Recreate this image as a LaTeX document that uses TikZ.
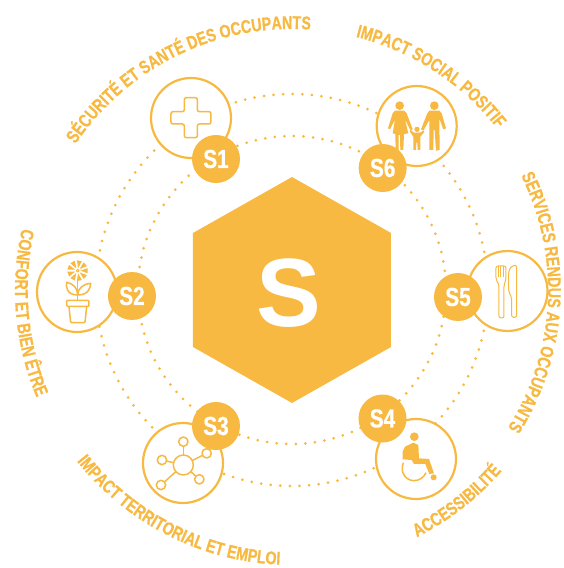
\documentclass[tikz,border=0pt]{standalone}
\usepackage{fontspec}
\setmainfont{Liberation Sans}
\newfontfamily\labelfont[FakeStretch=0.77,FakeBold=0.6]{Liberation Sans Bold}
\newfontfamily\badgefont[FakeStretch=0.8,FakeBold=0.6]{Liberation Sans Bold}
\usetikzlibrary{calc,decorations.text,shapes.geometric}
\definecolor{sunny}{HTML}{F7B941}
\tikzset{
  ring/.style={sunny,line width=3pt,line cap=round,dash pattern=on 0pt off 9.6pt},
  icon/.style={circle,draw=sunny,fill=white,line width=2.2pt,minimum size=80pt,inner sep=0pt},
  badge/.style={circle,fill=sunny,text=white,minimum size=48pt,inner sep=0pt,font=\badgefont\fontsize{26}{26}\selectfont},
  arclabel/.style={decorate,decoration={text along path,text align=center,text color=sunny,text={|\labelfont\fontsize{18.5}{18.5}\selectfont|#1}}},
  thin line/.style={draw=sunny,line width=1.5pt,line join=round},
  zoomed/.style={shift={#1},x=0.3333pt,y=-0.3333pt}
}
\begin{document}
\begin{tikzpicture}[x=1pt,y=1pt]
  \useasboundingbox (-292,-278) rectangle (271,290);
  \coordinate (c) at (0,0);
  % rings
  \draw[ring] (c) circle[radius=196];
  \draw[ring] (c) circle[radius=154];
  % hexagon
  \fill[sunny] (0,113) -- (99,57) -- (99,-57) -- (0,-113) -- (-99,-57) -- (-99,57) -- cycle;
  \node[text=white,font=\bfseries\fontsize{97}{97}\selectfont] (hex) at (-3,-3) {S};
  % icons
  \node[icon] (i1) at (-101,172) {};
  \node[icon] (i2) at (-215,-2) {};
  \node[icon] (i3) at (-109,-173) {};
  \node[icon] (i4) at (124,-169) {};
  \node[icon] (i5) at (215.5,-1) {};
  \node[icon] (i6) at (124.7,164) {};
  % cross
  \begin{scope}[zoomed={(-152,220)}]
    \draw[thin line,rounded corners=2pt] (133,83) -- (172,83) -- (172,125) -- (213,125) -- (213,162) -- (172,162) -- (172,203) -- (133,203) -- (133,162) -- (93,162) -- (93,125) -- (133,125) -- cycle;
  \end{scope}
  % flower
  \begin{scope}[zoomed={(-267,50)}]
    \foreach \a in {0,40,...,320}
      \fill[sunny] ($(158,92)+(\a:8)$) -- ($(158,92)+(\a-14:31)$) -- ($(158,92)+(\a+14:31)$) -- cycle;
    \fill[white] (158,92) circle[radius=7];
    \draw[thin line,line width=1pt] (158,92) circle[radius=4];
    \draw[thin line] (158,118) -- (158,180);
    \draw[thin line] (158,165) .. controls (125,165) and (122,140) .. (125,127) .. controls (145,130) and (158,145) .. (158,165);
    \draw[thin line] (158,165) .. controls (190,165) and (196,145) .. (197,130) .. controls (175,132) and (158,145) .. (158,165);
    \draw[thin line,rounded corners=1pt] (125,181) rectangle (192,199);
    \draw[thin line,rounded corners=1pt] (132,199) -- (137,248) -- (180,248) -- (185,199);
  \end{scope}
  % network
  \begin{scope}[zoomed={(-162,-100)}]
    \draw[thin line] (160,225) circle[radius=30];
    \foreach \px/\py in {160/155,230/190,96/210,93/285,208/268} {
      \draw[thin line] (\px,\py) circle[radius=14];
      \draw[thin line,shorten <=14*0.3333pt,shorten >=30*0.3333pt] (\px,\py) -- (160,225);
    }
  \end{scope}
  % wheelchair
  \begin{scope}[zoomed={(58,-100)}]
    \fill[sunny] (193,140) circle[radius=13];
    \fill[sunny] (165,170) -- (190,158) -- (205,165) -- (207,205) -- (237,207) -- (252,250) -- (238,252) -- (226,222) -- (192,222) -- (185,210) -- (158,208) -- (158,185) -- cycle;
    \draw[thin line] (160,218) .. controls (148,250) and (170,272) .. (192,272) .. controls (208,272) and (222,262) .. (228,248);
    \fill[sunny] (251,262) circle[radius=9];
  \end{scope}
  % cutlery
  \begin{scope}[zoomed={(138,50)}]
    \draw[thin line,line width=1pt,rounded corners=2pt] (198,78) -- (228,78) -- (228,118) -- (222,135) -- (222,234) -- (207,234) -- (207,135) -- (198,118) -- cycle;
    \foreach \tx in {205,213,221}
      \draw[thin line,line width=1pt] (\tx,78) -- (\tx,112);
    \draw[thin line,line width=1pt,rounded corners=2pt] (247,76) -- (260,76) -- (260,232) -- (245,232) -- (245,172) -- (236,155) -- (236,92) -- cycle;
  \end{scope}
  % family
  \begin{scope}[zoomed={(48,220)}]
    \fill[sunny] (179,107) circle[radius=13];
    \fill[sunny] (165,122) -- (192,122) -- (200,130) -- (218,178) -- (212,182) -- (195,148) -- (205,190) -- (192,192) -- (190,240) -- (181,240) -- (180,195) -- (176,195) -- (176,240) -- (167,240) -- (166,192) -- (158,190) -- (165,148) -- (150,178) -- (144,175) -- (158,130) -- cycle;
    \fill[sunny] (283,107) circle[radius=13];
    \fill[sunny] (268,122) -- (298,122) -- (305,130) -- (318,175) -- (310,178) -- (298,145) -- (299,240) -- (288,242) -- (284,180) -- (281,180) -- (280,240) -- (268,240) -- (268,150) -- (250,182) -- (243,178) -- (262,130) -- cycle;
    \fill[sunny] (231,178) circle[radius=8];
    \fill[sunny] (222,188) -- (240,188) -- (250,182) -- (253,186) -- (241,200) -- (241,240) -- (233,240) -- (232,218) -- (229,218) -- (228,240) -- (220,240) -- (220,200) -- (209,184) -- (212,180) -- cycle;
  \end{scope}
  % badges
  \node[badge] (s1) at (-76,131) {S1};
  \node[badge] (s2) at (-160,-6) {S2};
  \node[badge] (s3) at (-76,-136) {S3};
  \node[badge] (s4) at (90.5,-128.5) {S4};
  \node[badge] (s5) at (166,-7) {S5};
  \node[badge] (s6) at (90.7,122) {S6};
  % labels
  \path[arclabel={SÉCURITÉ ET SANTÉ DES OCCUPANTS}] (150:261) arc[start angle=150,end angle=82,radius=261];
  \path[arclabel={IMPACT SOCIAL POSITIF}] (80:261) arc[start angle=80,end angle=34,radius=261];
  \path[arclabel={SERVICES RENDUS AUX OCCUPANTS}] (30:256) arc[start angle=30,end angle=-36,radius=256];
  \path[arclabel={ACCESSIBILITÉ}] (-68:277) arc[start angle=-68,end angle=-36,radius=277];
  \path[arclabel={IMPACT TERRITORIAL ET EMPLOI}] (214:275) arc[start angle=214,end angle=272,radius=275];
  \path[arclabel={CONFORT ET BIEN ÊTRE}] (164:277) arc[start angle=164,end angle=206,radius=277];
\end{tikzpicture}
\end{document}
